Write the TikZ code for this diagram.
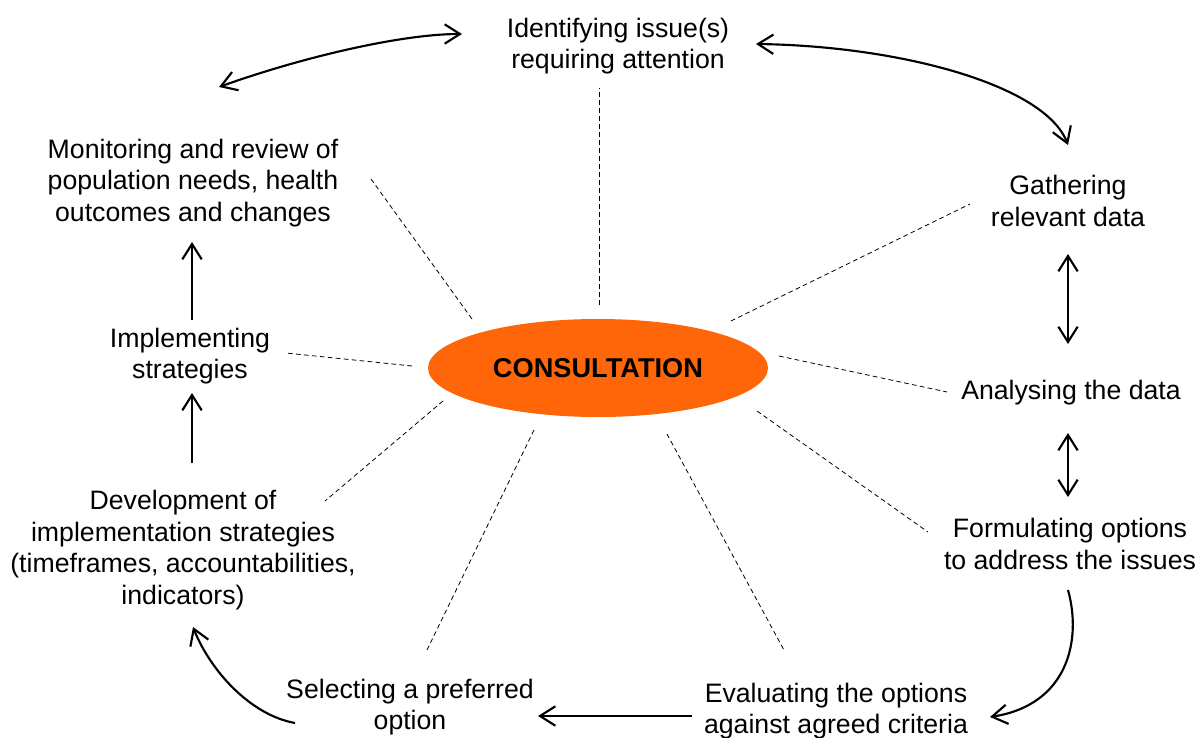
\documentclass[tikz,border=0pt]{standalone}
\usepackage{fontspec}
\setmainfont{Liberation Sans}
\usepackage{tikz}
\usetikzlibrary{positioning,shapes,arrows.meta,calc}
\tikzset{every picture/.style={line width=0.75pt}}
\definecolor{consultorange}{RGB}{255,102,10}
\tikzset{
  steptext/.style={align=center,inner sep=0pt,font=\fontsize{20}{23.6}\selectfont},
  spoke/.style={line width=0.6pt,dash pattern=on 3.5pt off 2.5pt},
  flow/.style={line width=1.6pt,>={Straight Barb[length=11.5pt,width=14.5pt]}},
}

\begin{document}
\begin{tikzpicture}[x=0.75pt,y=0.75pt,yscale=-1,xscale=1]
\useasboundingbox (0,0) rectangle (1200,738);

%Shape: Ellipse
\node[ellipse,fill=consultorange,minimum width=255pt,minimum height=73.5pt,inner sep=0pt,
      font=\fontsize{20.4}{23.6}\selectfont\bfseries] (consult) at (598,368) {CONSULTATION};

% Text Node
\node[steptext] (issue) at (618,46) {Identifying issue(s)\\requiring attention};
% Text Node
\node[steptext] (gather) at (1068,201) {Gathering\\relevant data};
% Text Node
\node[steptext] (analyse) at (1071,393) {Analysing the data};
% Text Node
\node[steptext] (formulate) at (1070,544) {Formulating options\\to address the issues};
% Text Node
\node[steptext] (evaluate) at (836,711) {Evaluating the options\\against agreed criteria};
% Text Node
\node[steptext] (select) at (410,707) {Selecting a preferred\\option};
% Text Node
\node[steptext] (dev) at (183,550) {Development of\\implementation strategies\\(timeframes, accountabilities,\\indicators)};
% Text Node
\node[steptext] (impl) at (190,356) {Implementing\\strategies};
% Text Node
\node[steptext] (monitor) at (193,183) {Monitoring and review of\\population needs, health\\outcomes and changes};

%Straight Lines
\draw[spoke] ($(consult)+(1,-63)$) -- ($(issue)+(-19,42)$);
\draw[spoke] ($(consult)+(133,-47)$) -- ($(gather)+(-98,3)$);
\draw[spoke] ($(consult)+(181,-12)$) -- ($(analyse)+(-124,-1)$);
\draw[spoke] ($(consult)+(159,43)$) -- ($(formulate)+(-142,-12)$);
\draw[spoke] ($(consult)+(69,66)$) -- ($(evaluate)+(-51,-59)$);
\draw[spoke] ($(consult)+(-64,62)$) -- ($(select)+(17,-57)$);
\draw[spoke] ($(consult)+(-155,33)$) -- ($(dev)+(142,-49)$);
\draw[spoke] ($(consult)+(-186,-2)$) -- ($(impl)+(96,-3)$);
\draw[spoke] ($(consult)+(-126,-49)$) -- ($(monitor)+(178,-4)$);

%Curve Lines
\draw[flow,<->] ($(monitor)+(26,-96)$) .. controls +(81,-29) and +(-62,0) .. ($(issue)+(-156,-12)$);
\draw[flow,<->] ($(issue)+(138,-2)$) .. controls +(144,2) and +(-23,-60) .. ($(gather)+(0,-56)$);
%Straight Lines
\draw[flow,<->] ($(gather)+(0,53)$) -- ($(gather |- analyse)+(0,-49)$);
\draw[flow,<->] ($(gather |- analyse)+(0,40)$) -- ($(gather |- formulate)+(0,-47)$);
%Curve Lines
\draw[flow,->] ($(gather |- formulate)+(0,46)$) .. controls +(14,50) and +(78,-12) .. ($(evaluate)+(154,6)$);
%Straight Lines
\draw[flow,->] ($(evaluate)+(-144,5)$) -- ($(select)+(128,9)$);
%Curve Lines
\draw[flow,->] ($(select)+(-115,16)$) .. controls +(-45,-8) and +(17,43) .. ($(dev)+(10,77)$);
%Straight Lines
\draw[flow,->] ($(dev)+(9,-87)$) -- ($(impl)+(2,37)$);
\draw[flow,->] ($(impl)+(2,-36)$) -- ($(monitor)+(-1,59)$);

\end{tikzpicture}
\end{document}
